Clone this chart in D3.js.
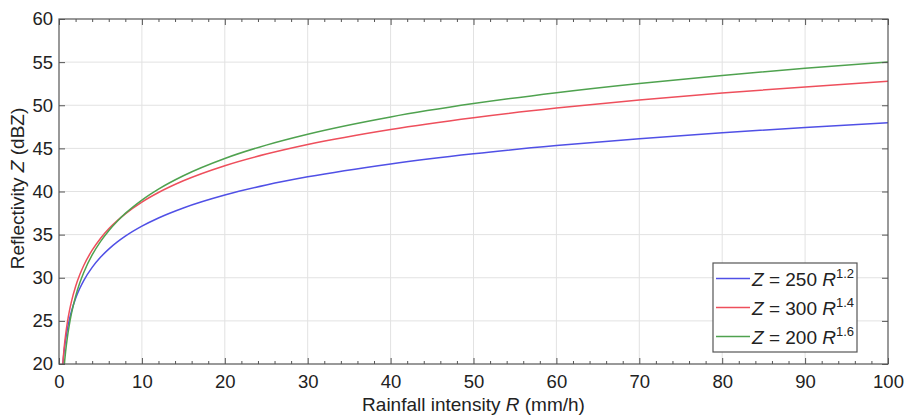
<!DOCTYPE html>
<html>
<head>
<meta charset="utf-8">
<script src="https://cdn.jsdelivr.net/npm/d3@7"></script>
<style>
  html, body { margin: 0; padding: 0; background: #fff; }
  svg { display: block; font-family: "Liberation Sans", Arial, Helvetica, sans-serif; }
</style>
</head>
<body>
<svg id="chart" width="905" height="416"></svg>
<script>
// ---- data ----
const rainfall = [0.45, 0.5, 0.6, 0.7, 0.8, 1, 1.25, 1.5, 2, 2.5, 3, 4, 5, 6, 7, 8, 10, 12, 15, 20, 25, 30, 40, 50, 60, 70, 80, 90, 100];
const zBlue  = [19.82, 20.37, 21.32, 22.12, 22.82, 23.98, 25.14, 26.09, 27.59, 28.75, 29.70, 31.20, 32.37, 33.32, 34.12, 34.82, 35.98, 36.93, 38.09, 39.59, 40.75, 41.70, 43.20, 44.37, 45.32, 46.12, 46.82, 47.43, 47.98];
const zRed   = [19.92, 20.56, 21.67, 22.60, 23.41, 24.77, 26.13, 27.24, 28.99, 30.34, 31.45, 33.20, 34.56, 35.67, 36.60, 37.41, 38.77, 39.88, 41.24, 42.99, 44.34, 45.45, 47.20, 48.56, 49.67, 50.60, 51.41, 52.13, 52.77];
const zGreen = [17.46, 18.19, 19.46, 20.53, 21.46, 23.01, 24.56, 25.83, 27.83, 29.38, 30.64, 32.64, 34.19, 35.46, 36.53, 37.46, 39.01, 40.28, 41.83, 43.83, 45.38, 46.64, 48.64, 50.19, 51.46, 52.53, 53.46, 54.28, 55.01];
const seriesNames = [["250", "1.2"], ["300", "1.4"], ["200", "1.6"]];
const seriesColors = ["#5050e6", "#ee4f5c", "#4fa24f"];
const xTicks = [0, 10, 20, 30, 40, 50, 60, 70, 80, 90, 100];
const xMinorTicks = d3.range(0, 101, 2);
const yTicks = [20, 25, 30, 35, 40, 45, 50, 55, 60];

// ---- layout ----
const svg = d3.select("#chart");
const m = { left: 59, right: 17, top: 19, bottom: 52 };
const W = 905, H = 416;
const pw = W - m.left - m.right, ph = H - m.top - m.bottom;

const x = d3.scaleLinear().domain([0, 100]).range([0, pw]);
const y = d3.scaleLinear().domain([20, 60]).range([ph, 0]);

const g = svg.append("g").attr("transform", `translate(${m.left},${m.top})`);

// grid
g.append("g").selectAll("line").data(xTicks.slice(1, -1)).join("line")
  .attr("x1", d => x(d)).attr("x2", d => x(d)).attr("y1", 0).attr("y2", ph)
  .attr("stroke", "#e2e2e2").attr("stroke-width", 1);
g.append("g").selectAll("line").data(yTicks.slice(1, -1)).join("line")
  .attr("y1", d => y(d)).attr("y2", d => y(d)).attr("x1", 0).attr("x2", pw)
  .attr("stroke", "#e2e2e2").attr("stroke-width", 1);

// curves
g.append("clipPath").attr("id", "clip").append("rect").attr("width", pw).attr("height", ph);
const line = d3.line().curve(d3.curveMonotoneX).x(d => x(d[0])).y(d => y(d[1]));
const allSeries = [zBlue, zRed, zGreen];
g.append("g").attr("clip-path", "url(#clip)").selectAll("path").data(allSeries).join("path")
  .attr("d", s => line(rainfall.map((r, i) => [r, s[i]])))
  .attr("fill", "none").attr("stroke", (d, i) => seriesColors[i]).attr("stroke-width", 1.5);

// axes (ticks inward, box)
const axisColor = "#555";
const fs = "18.5px";
const styleAxis = sel => { sel.select(".domain").remove(); sel.selectAll("line").attr("stroke", axisColor); };

g.append("g").attr("transform", `translate(0,${ph})`)
  .call(d3.axisBottom(x).tickValues(xTicks).tickSizeInner(-6).tickSizeOuter(0).tickPadding(11).tickFormat(d3.format("d")))
  .call(styleAxis)
  .call(s => s.selectAll("text").attr("font-size", fs).attr("fill", "#222").attr("font-family", null));
g.append("g").attr("transform", `translate(0,${ph})`)
  .call(d3.axisBottom(x).tickValues(xMinorTicks.filter(v => v % 10 !== 0)).tickSize(-3).tickFormat(""))
  .call(styleAxis);
g.append("g")
  .call(d3.axisTop(x).tickValues(xTicks).tickSize(-6).tickFormat(""))
  .call(styleAxis);
g.append("g")
  .call(d3.axisTop(x).tickValues(xMinorTicks.filter(v => v % 10 !== 0)).tickSize(-3).tickFormat(""))
  .call(styleAxis);
g.append("g")
  .call(d3.axisLeft(y).tickValues(yTicks).tickSizeInner(-6).tickSizeOuter(0).tickPadding(6).tickFormat(d3.format("d")))
  .call(styleAxis)
  .call(s => s.selectAll("text").attr("font-size", fs).attr("fill", "#222").attr("font-family", null));
g.append("g").attr("transform", `translate(${pw},0)`)
  .call(d3.axisRight(y).tickValues(yTicks).tickSize(-6).tickFormat(""))
  .call(styleAxis);

g.append("rect").attr("width", pw).attr("height", ph)
  .attr("fill", "none").attr("stroke", axisColor).attr("stroke-width", 1.2);

// axis labels
const xl = svg.append("text").attr("x", m.left + pw / 2).attr("y", 411)
  .attr("text-anchor", "middle").attr("font-size", "19px").attr("fill", "#222");
xl.append("tspan").text("Rainfall intensity ");
xl.append("tspan").attr("font-style", "italic").text("R");
xl.append("tspan").text(" (mm/h)");

const yl = svg.append("text").attr("transform", `translate(24,${m.top + ph / 2 - 3}) rotate(-90)`)
  .attr("text-anchor", "middle").attr("font-size", "19px").attr("fill", "#222");
yl.append("tspan").text("Reflectivity ");
yl.append("tspan").attr("font-style", "italic").text("Z");
yl.append("tspan").text(" (dBZ)");

// legend
const lg = svg.append("g").attr("transform", "translate(713,263)");
lg.append("rect").attr("width", 144).attr("height", 89)
  .attr("fill", "#fff").attr("stroke", "#555").attr("stroke-width", 1.2);
seriesNames.forEach((nm, i) => {
  const yy = 15.5 + i * 29;
  lg.append("line").attr("x1", 3).attr("x2", 37).attr("y1", yy).attr("y2", yy)
    .attr("stroke", seriesColors[i]).attr("stroke-width", 1.5);
  const t = lg.append("text").attr("x", 39).attr("y", yy + 7).attr("font-size", "19px").attr("fill", "#222");
  t.append("tspan").attr("font-style", "italic").text("Z");
  t.append("tspan").text(` = ${nm[0]} `);
  t.append("tspan").attr("font-style", "italic").text("R");
  t.append("tspan").attr("font-size", "13px").attr("dy", -8).text(nm[1]);
});
</script>
</body>
</html>
